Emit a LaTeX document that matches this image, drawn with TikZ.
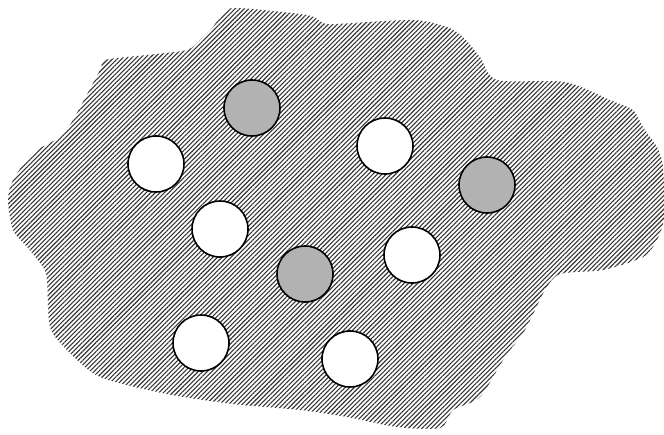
\documentclass[tikz,border=0pt]{standalone}
\usepackage{tikz}
\usetikzlibrary{patterns.meta}
\definecolor{dotgray}{RGB}{178, 178, 178}

\begin{document}
\begin{tikzpicture}[
    x=1pt, y=-1pt,
    region/.style={pattern={Lines[angle=45, distance=3.2pt, line width=1.1pt]}, pattern color=black!80},
    whitedot/.style={circle, draw=black, line width=1.6pt, fill=white,
                    minimum size=56pt, inner sep=0pt},
    graydot/.style={whitedot, fill=dotgray}
]
    \useasboundingbox (0,0) rectangle (664,434);

    % Region
    \fill[region] plot[smooth cycle, tension=0.45] coordinates {
        (105,60) (147,55) (187,50) (200,40) (213,27) (223,13) (237,8) (307,15)
        (323,23) (335,24) (413,20) (447,27) (463,37) (480,57) (497,80) (565,82)
        (610,100) (633,110) (643,127) (657,147) (663,167) (664,217) (657,240)
        (643,257) (603,270) (560,274) (545,290) (525,330) (505,357) (480,397)
        (453,410) (440,428) (397,427) (347,417) (300,410) (233,404) (167,394)
        (100,377) (67,350) (50,327) (47,280) (43,267) (27,247) (13,230) (8,200)
        (13,180) (33,153) (60,137) (73,120) (100,70)};

    % Gray dots
    \node[graydot] (g1) at (252,108) {};
    \node[graydot] (g2) at (487,185) {};
    \node[graydot] (g3) at (305,274) {};

    % White dots
    \node[whitedot] (w1) at (156,164) {};
    \node[whitedot] (w2) at (385,146) {};
    \node[whitedot] (w3) at (220,229) {};
    \node[whitedot] (w4) at (412,255) {};
    \node[whitedot] (w5) at (201,343) {};
    \node[whitedot] (w6) at (350,359) {};
\end{tikzpicture}
\end{document}
